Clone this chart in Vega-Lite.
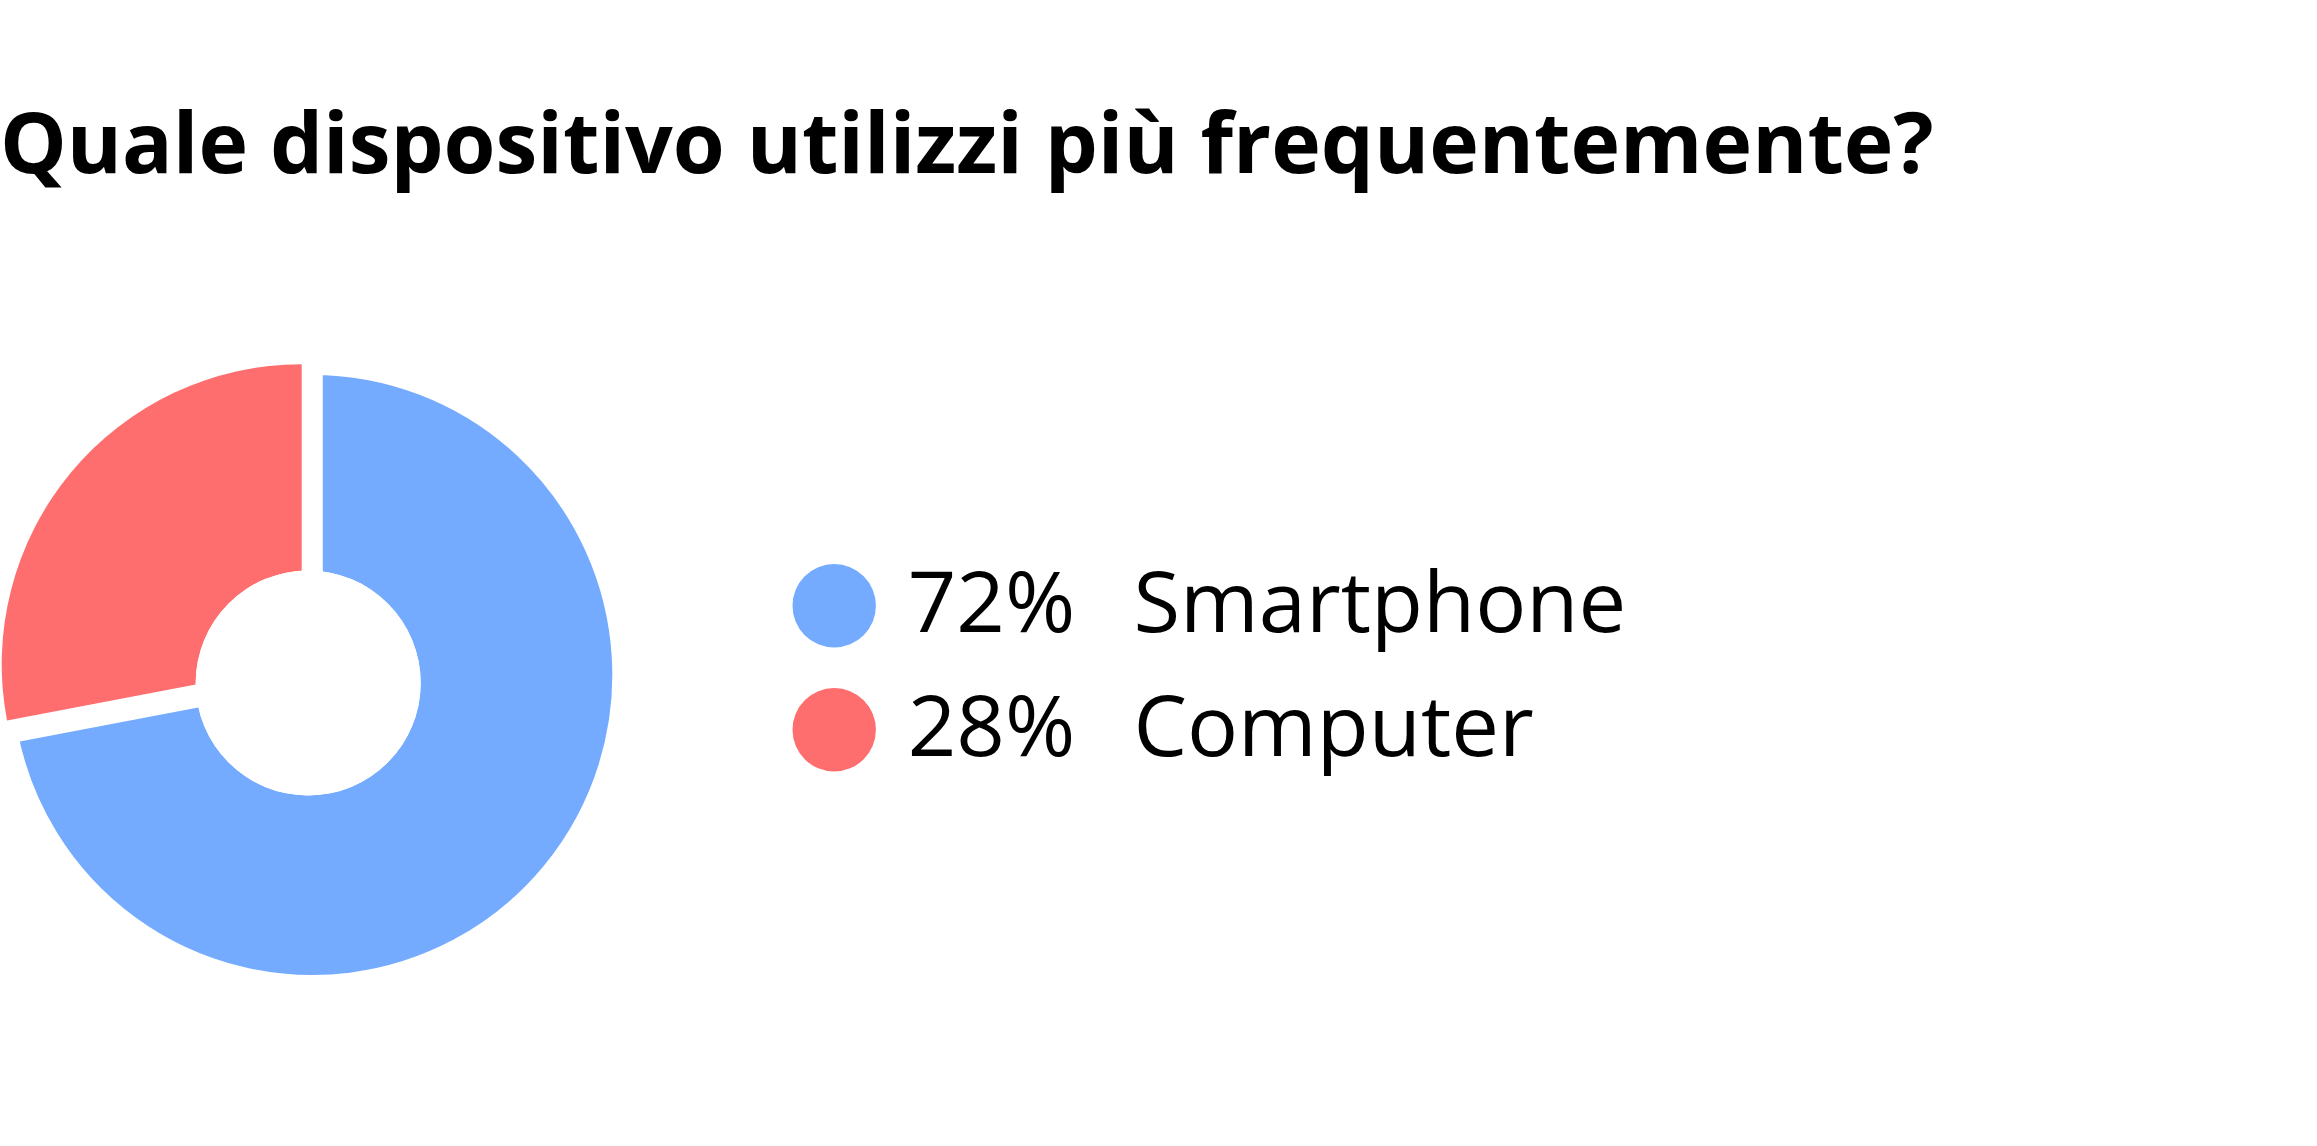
{
  "$schema": "https://vega.github.io/schema/vega-lite/v6.json",
  "width": 614,
  "height": 740,
  "autosize": "none",
  "padding": {"left": 0, "top": 300, "right": 1703, "bottom": 106},
  "background": "white",
  "title": {
    "text": "Quale dispositivo utilizzi più frequentemente?",
    "anchor": "start",
    "frame": "group",
    "font": "Open Sans",
    "fontWeight": 700,
    "fontSize": 84,
    "color": "#000000",
    "baseline": "alphabetic",
    "offset": 43
  },
  "data": {
    "values": [
      {"device": "Smartphone", "value": 72, "label": "72%\u00a0\u00a0\u2009Smartphone"},
      {"device": "Computer", "value": 28, "label": "28%\u00a0\u00a0\u2009Computer"}
    ]
  },
  "transform": [
    {"stack": "value", "groupby": [], "as": ["v0", "v1"], "sort": [{"field": "value", "order": "descending"}]}
  ],
  "config": {"view": {"stroke": null}},
  "layer": [
    {
      "transform": [{"filter": "datum.device === 'Smartphone'"}],
      "mark": {"type": "arc", "radius": 310.5, "stroke": "white", "strokeWidth": 21, "xOffset": 5.3, "yOffset": 5},
      "encoding": {
        "theta": {"field": "v0", "type": "quantitative", "scale": {"domain": [0, 100]}},
        "theta2": {"field": "v1"},
        "color": {
          "field": "label",
          "type": "nominal",
          "scale": {"domain": ["72%\u00a0\u00a0\u2009Smartphone", "28%\u00a0\u00a0\u2009Computer"], "range": ["#74ABFF", "#FF6E6E"]},
          "legend": {
            "title": null,
            "orient": "none",
            "legendX": 791.7,
            "legendY": 263.3,
            "padding": 0,
            "symbolType": "circle",
            "symbolSize": 6956,
            "symbolStrokeWidth": 0,
            "symbolOpacity": 1,
            "labelFont": "Open Sans",
            "labelFontSize": 85,
            "labelColor": "#000000",
            "labelOffset": 31,
            "labelLimit": 1200,
            "rowPadding": 38
          }
        }
      }
    },
    {
      "transform": [{"filter": "datum.device === 'Computer'"}],
      "mark": {"type": "arc", "radius": 300, "xOffset": -5.3, "yOffset": -5.7},
      "encoding": {
        "theta": {"field": "v0", "type": "quantitative", "scale": {"domain": [0, 100]}},
        "theta2": {"field": "v1"},
        "color": {"field": "label", "type": "nominal"}
      }
    },
    {
      "mark": {"type": "arc", "radius": 112.5, "theta": 0, "theta2": 6.2832, "color": "white", "xOffset": 1.2, "yOffset": 13},
      "encoding": {}
    }
  ]
}
